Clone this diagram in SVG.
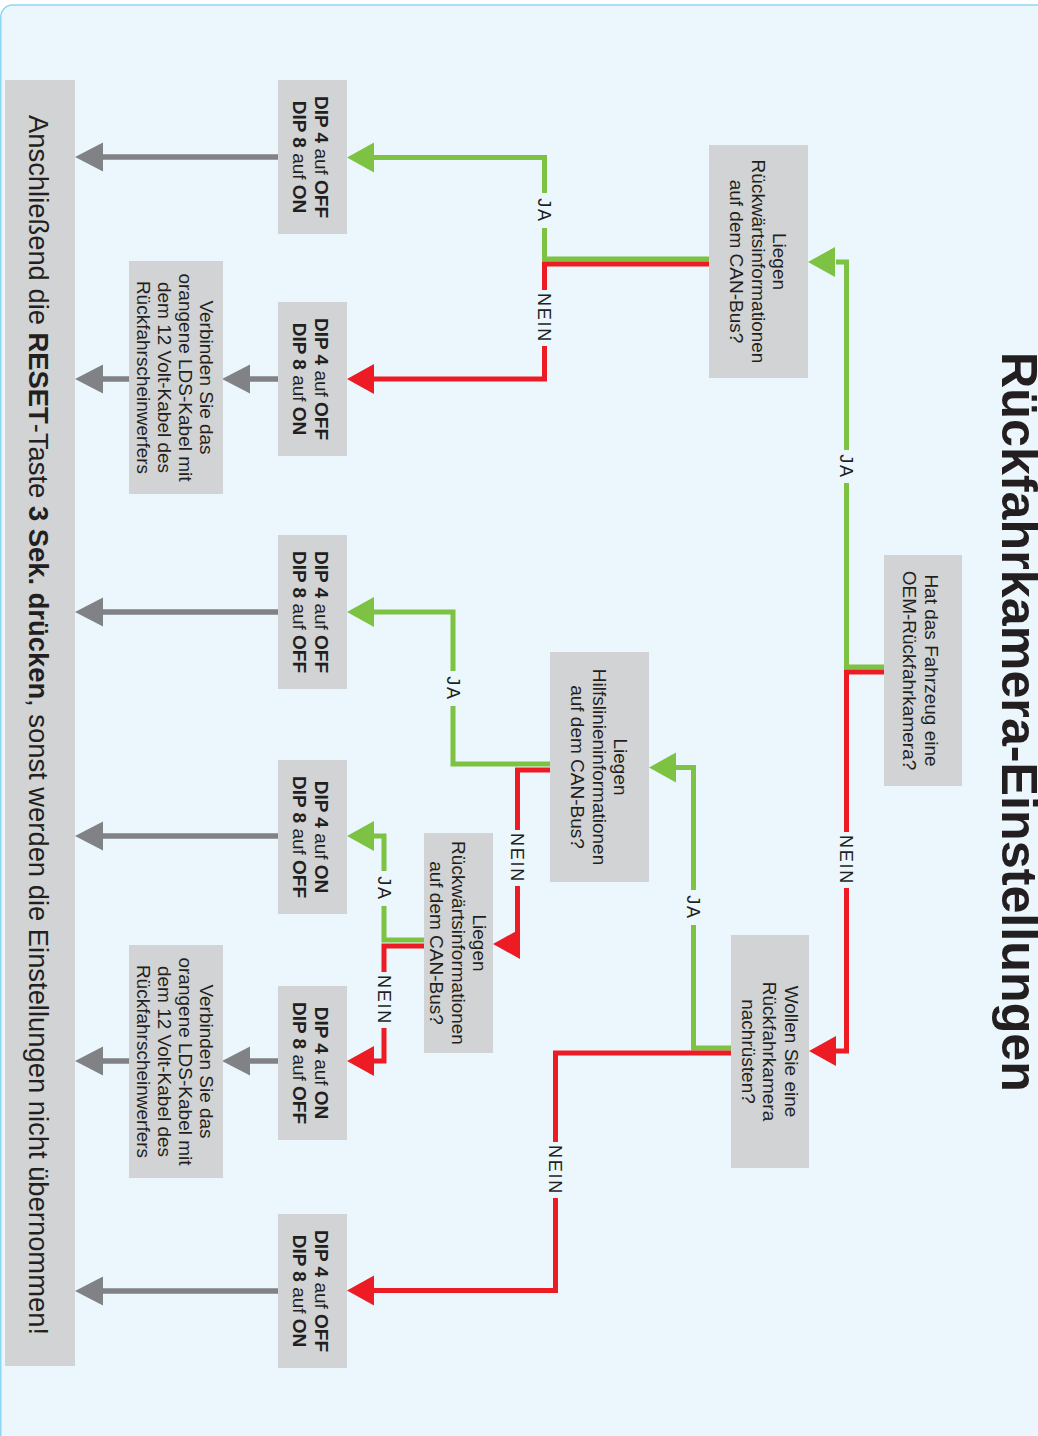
<svg xmlns="http://www.w3.org/2000/svg" width="1038" height="1436" viewBox="0 0 1038 1436">
<defs>
<style>
.box{fill:#D1D3D4}
.t{font-family:"Liberation Sans",Arial,sans-serif;font-size:19px;fill:#231F20;text-anchor:middle}
.b{font-weight:bold}
.lbl{font-family:"Liberation Sans",Arial,sans-serif;font-size:18px;fill:#231F20;text-anchor:middle;letter-spacing:1.8px}
.g{fill:none;stroke:#7DC242;stroke-width:5}
.r{fill:none;stroke:#ED1C24;stroke-width:5}
.k{fill:none;stroke:#808285;stroke-width:5.5}
.ga{fill:#7DC242}
.ra{fill:#ED1C24}
.ka{fill:#808285}
.gap{fill:#EBF7FD}
</style>
</defs>
<rect x="0" y="0" width="1038" height="1436" fill="#FFFFFF"/>
<rect x="0.75" y="5" width="1100" height="1500" rx="12" fill="#EBF7FD" stroke="#8DD6F5" stroke-width="1.5"/>

<text font-family="Liberation Sans,Arial,sans-serif" font-weight="bold" font-size="50" fill="#231F20" text-anchor="middle" transform="translate(1002,722) rotate(90)" textLength="740" lengthAdjust="spacingAndGlyphs">Rückfahrkamera-Einstellungen</text>

<g id="connectors">
<path class="g" d="M884,667 H846.5 V262 H836"/>
<polygon class="ga" points="808,262 835,247 835,277"/>
<path class="r" d="M884,672 H846.5 V1051 H836"/>
<polygon class="ra" points="809,1051 836,1036 836,1066"/>

<path class="g" d="M709,259 H544.5 V157.5 H374"/>
<polygon class="ga" points="347,157.5 374,142.5 374,172.5"/>
<path class="r" d="M709,264 H544.5 V379 H374"/>
<polygon class="ra" points="347,379 374,364 374,394"/>

<path class="g" d="M731,1048 H693.5 V767.5 H676"/>
<polygon class="ga" points="649,767.5 676,752.5 676,782.5"/>
<path class="r" d="M731,1053 H555.5 V1290.5 H374"/>
<polygon class="ra" points="347,1290.5 374,1275.5 374,1305.5"/>

<path class="g" d="M550,764 H453 V612 H374"/>
<polygon class="ga" points="347,612 374,597 374,627"/>
<path class="r" d="M550,770 H517.5 V944"/>
<polygon class="ra" points="493,944 520,929 520,959"/>

<path class="g" d="M424,940 H384 V836 H374"/>
<polygon class="ga" points="347,836 374,821 374,851"/>
<path class="r" d="M424,946 H384 V1061 H374"/>
<polygon class="ra" points="347,1061 374,1046 374,1076"/>

<path class="k" d="M278,157 H102"/>
<polygon class="ka" points="75,157 103,142.5 103,171.5"/>
<path class="k" d="M278,379 H249"/>
<polygon class="ka" points="222,379 250,364.5 250,393.5"/>
<path class="k" d="M129,379 H102"/>
<polygon class="ka" points="75,379 103,364.5 103,393.5"/>
<path class="k" d="M278,612 H102"/>
<polygon class="ka" points="75,612 103,597.5 103,626.5"/>
<path class="k" d="M278,836 H102"/>
<polygon class="ka" points="75,836 103,821.5 103,850.5"/>
<path class="k" d="M278,1061 H249"/>
<polygon class="ka" points="222,1061 250,1046.5 250,1075.5"/>
<path class="k" d="M129,1061 H102"/>
<polygon class="ka" points="75,1061 103,1046.5 103,1075.5"/>
<path class="k" d="M278,1291 H102"/>
<polygon class="ka" points="75,1291 103,1276.5 103,1305.5"/>

<rect class="gap" x="838" y="450" width="17" height="33"/>
<text class="lbl" transform="translate(846.5,466.5) rotate(90)" y="6.5">JA</text>
<rect class="gap" x="838" y="832" width="17" height="56"/>
<text class="lbl" transform="translate(846.5,860) rotate(90)" y="6.5">NEIN</text>
<rect class="gap" x="536" y="193" width="17" height="35"/>
<text class="lbl" transform="translate(544.5,210.5) rotate(90)" y="6.5">JA</text>
<rect class="gap" x="536" y="290" width="17" height="56"/>
<text class="lbl" transform="translate(544.5,318) rotate(90)" y="6.5">NEIN</text>
<rect class="gap" x="685" y="890" width="17" height="35"/>
<text class="lbl" transform="translate(693.5,907.5) rotate(90)" y="6.5">JA</text>
<rect class="gap" x="547" y="1142" width="17" height="56"/>
<text class="lbl" transform="translate(555.5,1170) rotate(90)" y="6.5">NEIN</text>
<rect class="gap" x="444" y="671" width="17" height="35"/>
<text class="lbl" transform="translate(453,688.5) rotate(90)" y="6.5">JA</text>
<rect class="gap" x="509" y="830" width="17" height="56"/>
<text class="lbl" transform="translate(517.5,858) rotate(90)" y="6.5">NEIN</text>
<rect class="gap" x="375" y="871" width="17" height="35"/>
<text class="lbl" transform="translate(384,888.5) rotate(90)" y="6.5">JA</text>
<rect class="gap" x="375" y="972" width="17" height="56"/>
<text class="lbl" transform="translate(384,1000) rotate(90)" y="6.5">NEIN</text>
</g>

<g id="q1">
<rect class="box" x="884" y="555" width="78" height="231"/>
<text class="t" transform="translate(921,670.5) rotate(90)"><tspan x="0" y="-3.9">Hat das Fahrzeug eine</tspan><tspan x="0" y="17.6">OEM-Rückfahrkamera?</tspan></text>
</g>
<g id="q2">
<rect class="box" x="709" y="145" width="99" height="233"/>
<text class="t" transform="translate(758.5,261.5) rotate(90)"><tspan x="0" y="-14.7">Liegen</tspan><tspan x="0" y="6.8">Rückwärtsinformationen</tspan><tspan x="0" y="28.3">auf dem CAN-Bus?</tspan></text>
</g>
<g id="q3">
<rect class="box" x="731" y="935" width="78" height="233"/>
<text class="t" transform="translate(770,1051.5) rotate(90)"><tspan x="0" y="-14.7">Wollen Sie eine</tspan><tspan x="0" y="6.8">Rückfahrkamera</tspan><tspan x="0" y="28.3">nachrüsten?</tspan></text>
</g>
<g id="q4">
<rect class="box" x="550" y="652" width="99" height="230"/>
<text class="t" transform="translate(599.5,767) rotate(90)"><tspan x="0" y="-14.7">Liegen</tspan><tspan x="0" y="6.8">Hilfslinieninformationen</tspan><tspan x="0" y="28.3">auf dem CAN-Bus?</tspan></text>
</g>
<g id="q5">
<rect class="box" x="424" y="833" width="69" height="220"/>
<text class="t" transform="translate(458.5,943) rotate(90)"><tspan x="0" y="-14.7">Liegen</tspan><tspan x="0" y="6.8">Rückwärtsinformationen</tspan><tspan x="0" y="28.3">auf dem CAN-Bus?</tspan></text>
</g>

<g id="d1">
<rect class="box" x="278" y="80" width="69" height="154"/>
<text class="t" transform="translate(311,157) rotate(90)"><tspan x="0" y="-4"><tspan class="b">DIP 4</tspan> auf <tspan class="b">OFF</tspan></tspan><tspan x="0" y="18"><tspan class="b">DIP 8</tspan> auf <tspan class="b">ON</tspan></tspan></text>
</g>
<g id="d2">
<rect class="box" x="278" y="302" width="69" height="154"/>
<text class="t" transform="translate(311,379) rotate(90)"><tspan x="0" y="-4"><tspan class="b">DIP 4</tspan> auf <tspan class="b">OFF</tspan></tspan><tspan x="0" y="18"><tspan class="b">DIP 8</tspan> auf <tspan class="b">ON</tspan></tspan></text>
</g>
<g id="d3">
<rect class="box" x="278" y="535" width="69" height="154"/>
<text class="t" transform="translate(311,612) rotate(90)"><tspan x="0" y="-4"><tspan class="b">DIP 4</tspan> auf <tspan class="b">OFF</tspan></tspan><tspan x="0" y="18"><tspan class="b">DIP 8</tspan> auf <tspan class="b">OFF</tspan></tspan></text>
</g>
<g id="d4">
<rect class="box" x="278" y="760" width="69" height="154"/>
<text class="t" transform="translate(311,837) rotate(90)"><tspan x="0" y="-4"><tspan class="b">DIP 4</tspan> auf <tspan class="b">ON</tspan></tspan><tspan x="0" y="18"><tspan class="b">DIP 8</tspan> auf <tspan class="b">OFF</tspan></tspan></text>
</g>
<g id="d5">
<rect class="box" x="278" y="986" width="69" height="154"/>
<text class="t" transform="translate(311,1063) rotate(90)"><tspan x="0" y="-4"><tspan class="b">DIP 4</tspan> auf <tspan class="b">ON</tspan></tspan><tspan x="0" y="18"><tspan class="b">DIP 8</tspan> auf <tspan class="b">OFF</tspan></tspan></text>
</g>
<g id="d6">
<rect class="box" x="278" y="1214" width="69" height="154"/>
<text class="t" transform="translate(311,1291) rotate(90)"><tspan x="0" y="-4"><tspan class="b">DIP 4</tspan> auf <tspan class="b">OFF</tspan></tspan><tspan x="0" y="18"><tspan class="b">DIP 8</tspan> auf <tspan class="b">ON</tspan></tspan></text>
</g>

<g id="l1">
<rect class="box" x="129" y="261" width="94" height="233"/>
<text class="t" transform="translate(175.5,377.5) rotate(90)"><tspan x="0" y="-24.7">Verbinden Sie das</tspan><tspan x="0" y="-3.7">orangene LDS-Kabel mit</tspan><tspan x="0" y="17.3">dem 12 Volt-Kabel des</tspan><tspan x="0" y="38.3">Rückfahrscheinwerfers</tspan></text>
</g>
<g id="l2">
<rect class="box" x="129" y="945" width="94" height="233"/>
<text class="t" transform="translate(175.5,1061.5) rotate(90)"><tspan x="0" y="-24.7">Verbinden Sie das</tspan><tspan x="0" y="-3.7">orangene LDS-Kabel mit</tspan><tspan x="0" y="17.3">dem 12 Volt-Kabel des</tspan><tspan x="0" y="38.3">Rückfahrscheinwerfers</tspan></text>
</g>

<g id="reset">
<rect class="box" x="5" y="80" width="70" height="1286"/>
<text class="t" style="font-size:27.5px" transform="translate(29,725) rotate(90)" textLength="1220" lengthAdjust="spacingAndGlyphs">Anschließend die <tspan class="b">RESET</tspan>-Taste <tspan class="b">3 Sek. drücken</tspan>, sonst werden die Einstellungen nicht übernommen!</text>
</g>
</svg>
